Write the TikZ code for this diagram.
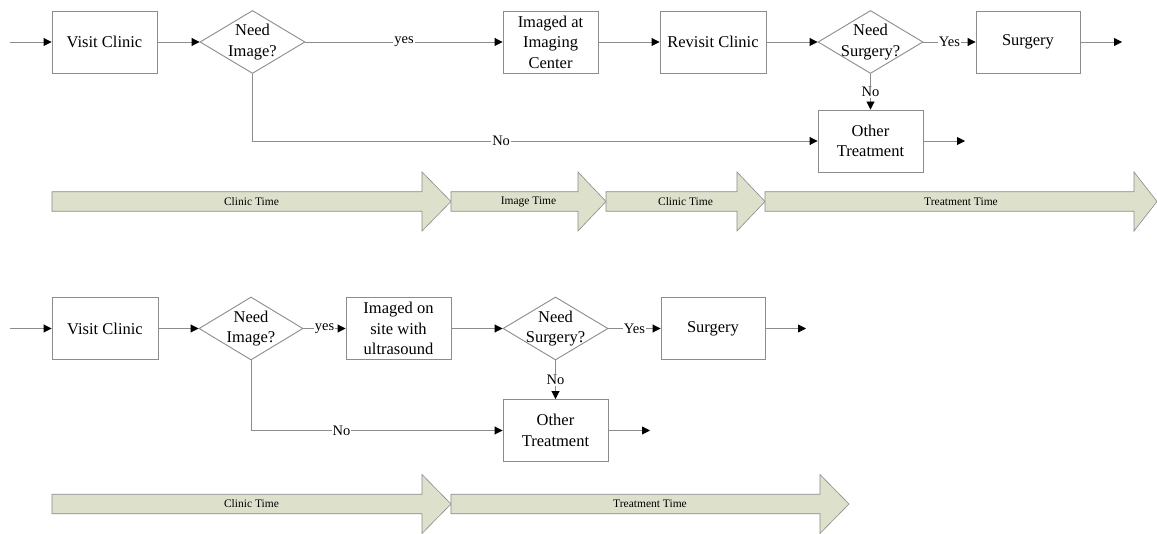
\documentclass[tikz,border=0pt]{standalone}
\usepackage{fontspec}
\setmainfont{Liberation Serif}
\newfontfamily\diagfont{Liberation Serif}
\usetikzlibrary{shapes.geometric,arrows.meta}
\definecolor{linegray}{HTML}{8C8C8C}
\definecolor{tfill}{HTML}{DDE1CC}
\definecolor{tborder}{HTML}{8A8A8A}
\newcommand\TimeArrow[6]{%
  \path[tarrow] (#2,#4-9.75) -- (#3-#6,#4-9.75) -- (#3-#6,#4-29.5) -- (#3,#4)
    -- (#3-#6,#4+29.5) -- (#3-#6,#4+9.75) -- (#2,#4+9.75) -- cycle;
  \node[tlab] (#1) at ({(#2+#3)/2},#4) {#5};}
\begin{document}
\begin{tikzpicture}[x=1pt,y=-1pt,
  box/.style={draw=linegray, line width=0.9pt, minimum height=62pt, inner sep=0pt,
    align=center, font=\diagfont\fontsize{16.5}{20.5}\selectfont},
  dia/.style={draw=linegray, line width=0.9pt, diamond, inner sep=0pt,
    minimum width=105pt, minimum height=63pt},
  dtext/.style={inner sep=0pt, align=center, font=\diagfont\fontsize{16.5}{20.5}\selectfont},
  flow/.style={draw=linegray, line width=0.9pt, -{Triangle[color=black,length=8pt,width=8pt]}},
  lab/.style={fill=white, inner sep=1pt, font=\diagfont\fontsize{14.5}{14.5}\selectfont},
  tarrow/.style={fill=tfill, draw=tborder, line width=0.6pt},
  tlab/.style={inner sep=0pt, font=\diagfont\fontsize{11.5}{12}\selectfont}
]
\useasboundingbox[fill=white] (0,0) rectangle (1157,534);

% ---------------- Row 1 ----------------
\node[box, minimum width=105pt] (vc1) at (104.5,42) {Visit Clinic};
\node[dia] (ni1) at (252.5,42) {};
\node[dtext] (ni1t) at (ni1.center) {Need\\Image?};
\node[box, minimum width=95pt] (ic1) at (550.5,42) {Imaged at\\Imaging\\Center};
\node[box, minimum width=106pt] (rc1) at (713,42) {Revisit Clinic};
\node[dia] (ns1) at (870.5,42) {};
\node[dtext] (ns1t) at (ns1.center) {Need\\Surgery?};
\node[box, minimum width=104pt] (su1) at (1028,42) {Surgery};
\node[box, minimum width=105pt] (ot1) at (870.5,141) {Other\\Treatment};

\coordinate (s1) at (10,42);
\coordinate (e1) at (1122,42);
\coordinate (e2) at (965,141);

\draw[flow] (s1) -- (vc1.west);
\draw[flow] (vc1.east) -- (ni1.west);
\draw[flow] (ni1.east) -- node[lab] (ly1) {yes} (ic1.west);
\draw[flow] (ic1.east) -- (rc1.west);
\draw[flow] (rc1.east) -- (ns1.west);
\draw[flow] (ns1.east) -- node[lab] (lY1) {Yes} (su1.west);
\draw[flow] (su1.east) -- (e1);
\draw[flow] (ns1.south) -- node[lab] (lN1) {No} (ot1.north);
\draw[flow] (ni1.south) -- (ni1.south |- ot1.west) -- node[lab, pos=0.44] (ln1) {No} (ot1.west);
\draw[flow] (ot1.east) -- (e2);

\TimeArrow{t11}{52}{451}{201.5}{Clinic Time}{29}
\TimeArrow{t12}{451}{606}{201.5}{Image Time}{28}
\TimeArrow{t13}{606}{765}{201.5}{Clinic Time}{28}
\TimeArrow{t14}{765}{1157}{201.5}{Treatment Time}{23}

% ---------------- Row 2 ----------------
\node[box, minimum width=106pt] (vc2) at (105,328.5) {Visit Clinic};
\node[dia, minimum width=104pt] (ni2) at (251,328.5) {};
\node[dtext] (ni2t) at (ni2.center) {Need\\Image?};
\node[box, minimum width=105pt] (io2) at (398.5,328.5) {Imaged on\\site with\\ultrasound};
\node[dia] (ns2) at (555.5,328.5) {};
\node[dtext] (ns2t) at (ns2.center) {Need\\Surgery?};
\node[box, minimum width=104pt] (su2) at (713,328.5) {Surgery};
\node[box, minimum width=105pt] (ot2) at (555.5,430.5) {Other\\Treatment};

\coordinate (s2) at (10,328.5);
\coordinate (e3) at (806,328.5);
\coordinate (e4) at (650,430.5);

\draw[flow] (s2) -- (vc2.west);
\draw[flow] (vc2.east) -- (ni2.west);
\draw[flow] (ni2.east) -- node[lab] (ly2) {yes} (io2.west);
\draw[flow] (io2.east) -- (ns2.west);
\draw[flow] (ns2.east) -- node[lab] (lY2) {Yes} (su2.west);
\draw[flow] (su2.east) -- (e3);
\draw[flow] (ns2.south) -- node[lab] (lN2) {No} (ot2.north);
\draw[flow] (ni2.south) -- (ni2.south |- ot2.west) -- node[lab, pos=0.36] (ln2) {No} (ot2.west);
\draw[flow] (ot2.east) -- (e4);

\TimeArrow{t21}{52}{451}{504}{Clinic Time}{29}
\TimeArrow{t22}{451}{849}{504}{Treatment Time}{29}
\end{tikzpicture}
\end{document}
